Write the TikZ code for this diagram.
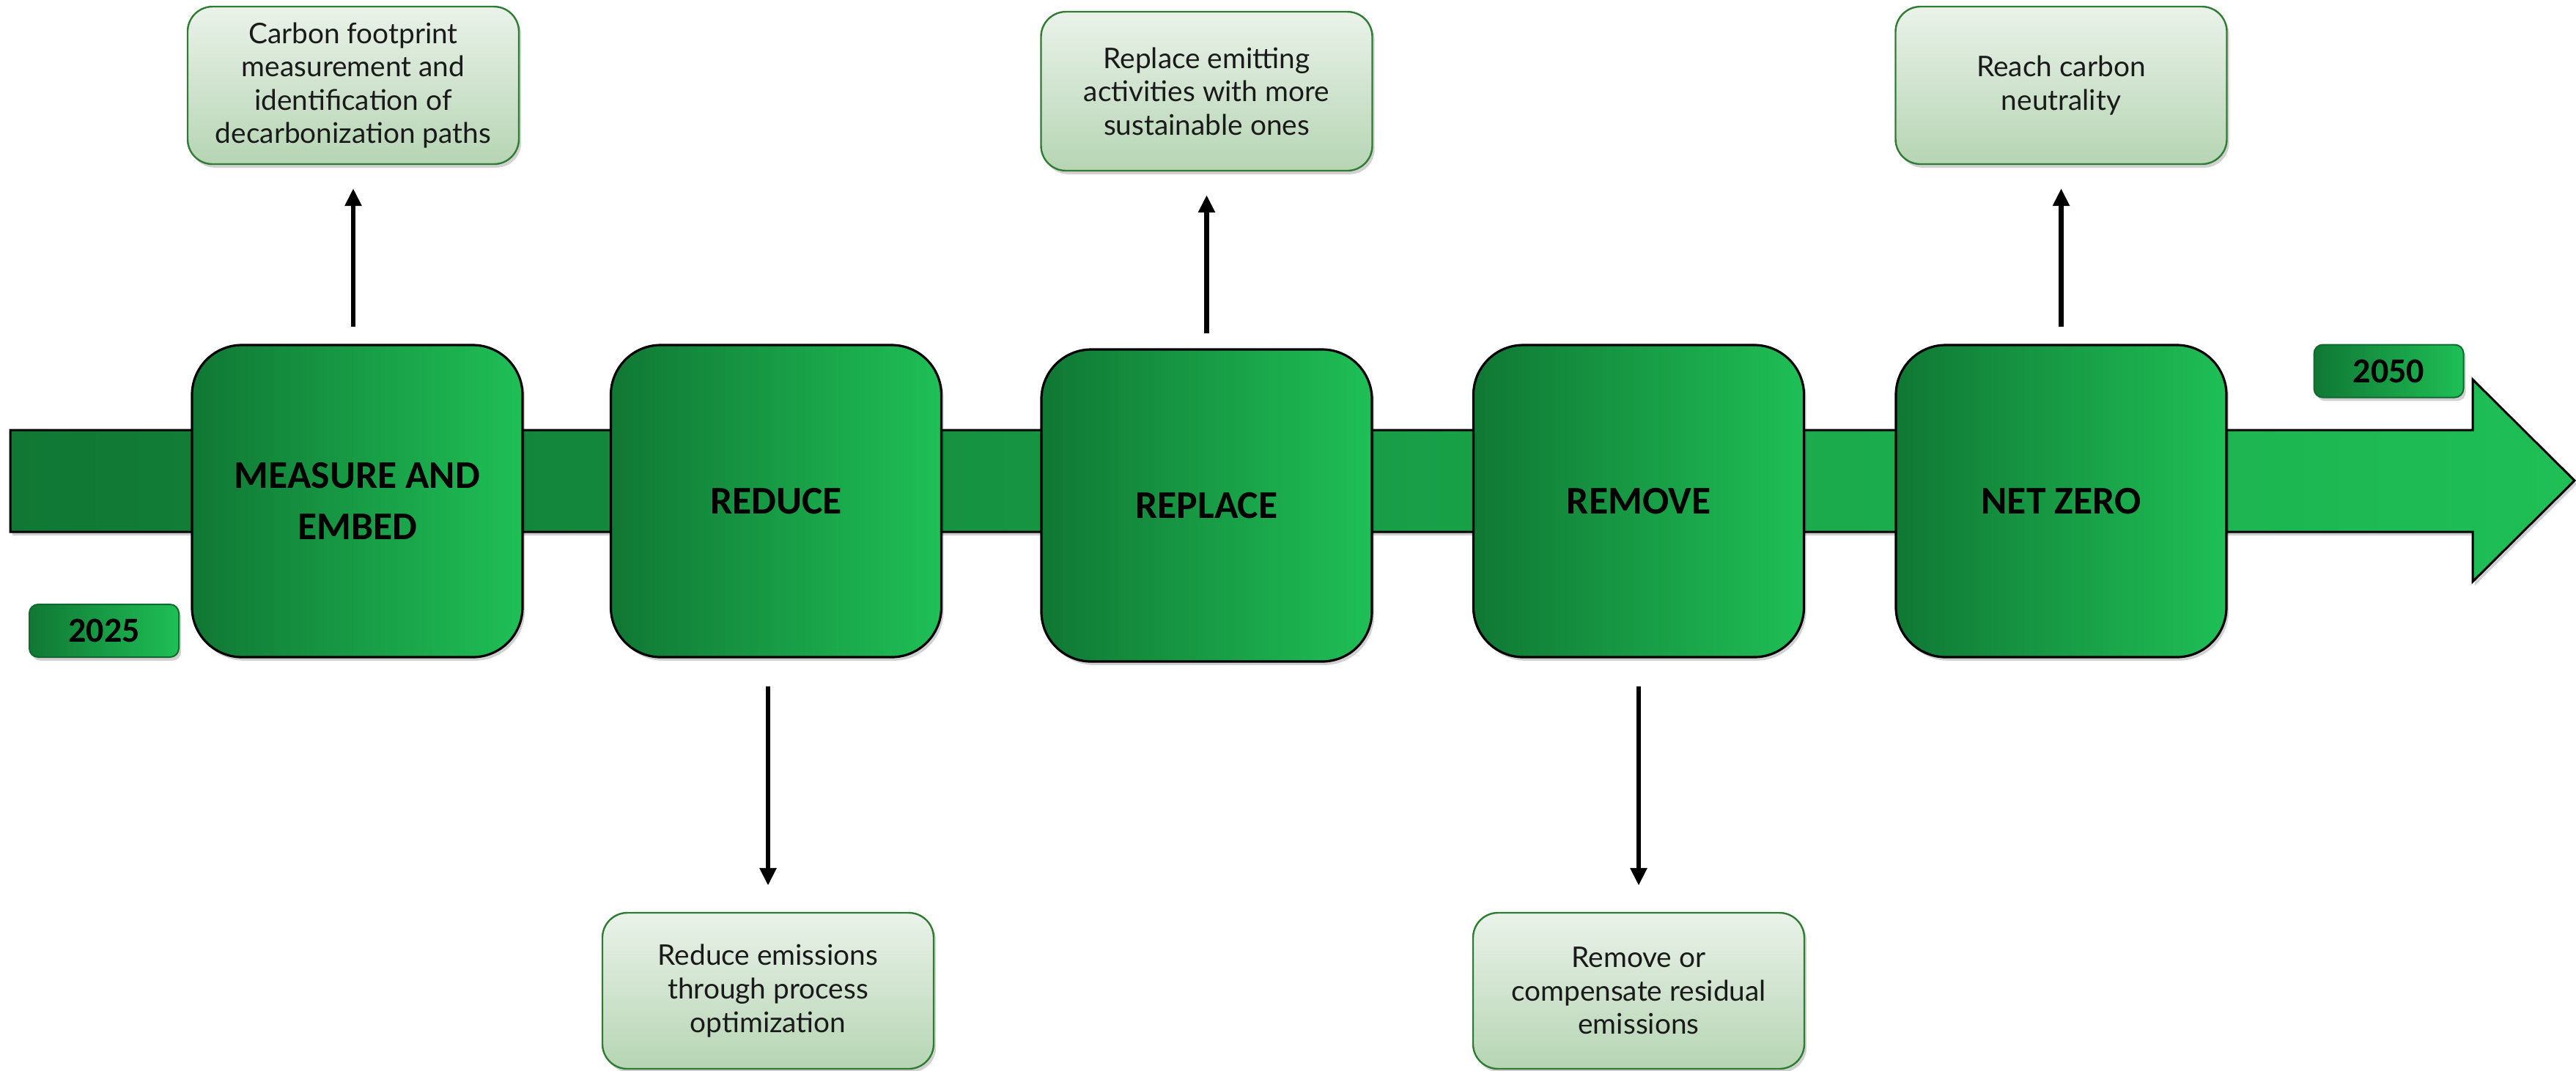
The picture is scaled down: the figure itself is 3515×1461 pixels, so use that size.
\documentclass[tikz,border=0pt]{standalone}
\usepackage{fontspec}
\setmainfont{Lato}
\newfontfamily\labelfont{Carlito}
\usetikzlibrary{arrows.meta,shadows}
\definecolor{gdark}{HTML}{107834}
\definecolor{glight}{HTML}{1FBF56}
\definecolor{dtop}{HTML}{EAF2E9}
\definecolor{dbot}{HTML}{B6D5B4}
\definecolor{bdgreen}{HTML}{2F7D33}
\definecolor{ydark}{HTML}{0E6A2E}
\definecolor{txt}{HTML}{1A1A1A}
\begin{document}
\begin{tikzpicture}[x=0.25pt,y=-0.25pt,
  softshadow/.style={drop shadow={shadow xshift=0.8pt,shadow yshift=-1.2pt,opacity=0.18,fill=black}},
  stepbox/.style={draw=black, line width=0.8pt, rounded corners=17pt, left color=gdark, right color=glight,
    minimum width=112.75pt, minimum height=106.5pt, inner sep=0pt, align=center,
    font=\labelfont\bfseries\fontsize{13.4}{17.5}\selectfont, softshadow},
  descbox/.style={draw=bdgreen, line width=0.6pt, rounded corners=8.5pt, top color=dtop, bottom color=dbot,
    minimum width=113pt, minimum height=53.75pt, inner sep=0pt, align=center,
    font=\fontsize{9.7}{11.4}\selectfont, text=txt, softshadow},
  yearbox/.style={draw=ydark, line width=0.5pt, rounded corners=3pt, left color=gdark, right color=glight,
    minimum width=51pt, minimum height=18pt, inner sep=0pt,
    font=\labelfont\bfseries\fontsize{12}{14}\selectfont, softshadow},
  conn/.style={line width=1.6pt, -{Triangle[width=5.5pt,length=6pt]}},
]
\useasboundingbox (0,0) rectangle (3515,1461);
% main timeline arrow
\path[draw=black, line width=0.75pt, left color=gdark, right color=glight, softshadow]
  (14,587) -- (3374,587) -- (3374,518) -- (3513,656) -- (3374,794) -- (3374,726) -- (14,726) -- cycle;
% step boxes
\node[stepbox] (s1) at (487.5,684) {MEASURE AND\\EMBED};
\node[stepbox] (s2) at (1059,684) {REDUCE};
\node[stepbox] (s3) at (1646.5,690) {REPLACE};
\node[stepbox] (s4) at (2236,684) {REMOVE};
\node[stepbox] (s5) at (2812.5,684) {NET ZERO};
% description boxes
\node[descbox] (t1) at (482,116.5) {Carbon footprint\\measurement and\\identification of\\decarbonization paths};
\node[descbox, minimum height=54.25pt] (t2) at (1646.5,124.5) {Replace emitting\\activities with more\\sustainable ones};
\node[descbox] (t3) at (2812.5,116.5) {Reach carbon\\neutrality};
\node[descbox, minimum height=53.25pt] (b1) at (1048,1352.5) {Reduce emissions\\through process\\optimization};
\node[descbox, minimum height=53.25pt] (b2) at (2236,1352.5) {Remove or\\compensate residual\\emissions};
% years
\node[yearbox] (y1) at (142,861) {2025};
\node[yearbox] (y2) at (3259.5,506.5) {2050};
% connectors
\draw[conn, shorten <=5.75pt, shorten >=8pt] (s1.north -| t1.south) -- (t1.south);
\draw[conn, shorten <=5pt, shorten >=8pt] (s3.north) -- (t2.south);
\draw[conn, shorten <=5.75pt, shorten >=8pt] (s5.north) -- (t3.south);
\draw[conn, shorten <=9.5pt, shorten >=9pt] (s2.south -| b1.north) -- (b1.north);
\draw[conn, shorten <=9.5pt, shorten >=9pt] (s4.south) -- (b2.north);
\end{tikzpicture}
\end{document}
